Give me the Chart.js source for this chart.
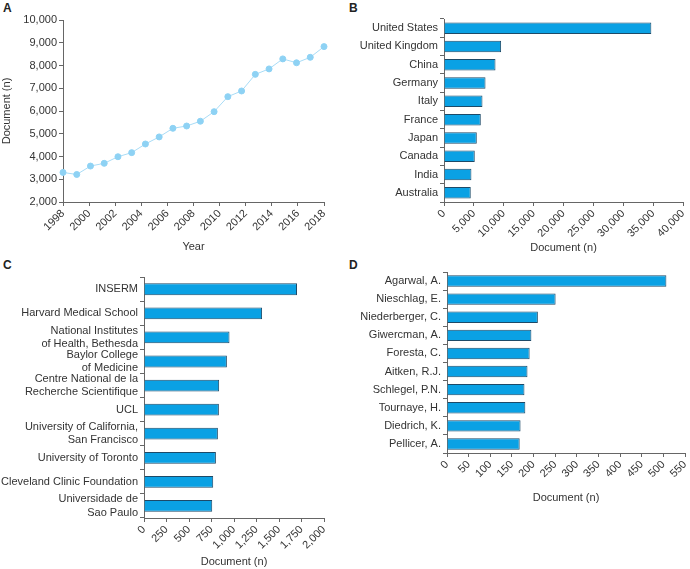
<!DOCTYPE html>
<html>
<head>
<meta charset="utf-8">
<script src="https://cdn.jsdelivr.net/npm/chart.js@4"></script>
<style>
	body { margin: 0; background: #fff; font-family: "Liberation Sans", Arial, sans-serif; }
	.wrap { position: relative; width: 690px; height: 569px; overflow: hidden; }
	.box { position: absolute; }
	.tag { position: absolute; font-weight: bold; font-size: 12px; color: #222; }
</style>
</head>
<body>
<div class="wrap">
	<div class="tag" style="left:3px;top:1px">A</div>
	<div class="tag" style="left:349px;top:1px">B</div>
	<div class="tag" style="left:3px;top:258px">C</div>
	<div class="tag" style="left:349px;top:258px">D</div>
	<div class="box" style="left:0;top:10px;width:340px;height:250px"><canvas id="chartA"></canvas></div>
	<div class="box" style="left:345px;top:10px;width:345px;height:250px"><canvas id="chartB"></canvas></div>
	<div class="box" style="left:0;top:262px;width:345px;height:307px"><canvas id="chartC"></canvas></div>
	<div class="box" style="left:345px;top:262px;width:345px;height:250px"><canvas id="chartD"></canvas></div>
</div>
<script>
// A - documents per year
const years = ["1999", "2000", "2001", "2002", "2003", "2004", "2005", "2006", "2007", "2008",
	"2009", "2010", "2011", "2012", "2013", "2014", "2015", "2016", "2017", "2018"];
const yearDocs = [3300, 3210, 3580, 3700, 3990, 4170, 4550, 4860, 5240, 5340,
	5550, 5970, 6630, 6880, 7610, 7850, 8290, 8120, 8360, 8830];

// B - countries
const countries = ["United States", "United Kingdom", "China", "Germany", "Italy",
	"France", "Japan", "Canada", "India", "Australia"];
const countryDocs = [34700, 9560, 8620, 6950, 6440, 6160, 5490, 5150, 4590, 4480];

// C - institutions
const institutions = [
	"INSERM",
	"Harvard Medical School",
	["National Institutes", "of Health, Bethesda"],
	["Baylor College", "of Medicine"],
	["Centre National de la", "Recherche Scientifique"],
	"UCL",
	["University of California,", "San Francisco"],
	"University of Toronto",
	"Cleveland Clinic Foundation",
	["Universidade de", "Sao Paulo"],
];
const institutionDocs = [1700, 1312, 950, 921, 835, 832, 821, 799, 769, 758];

// D - authors
const authors = ["Agarwal, A.", "Nieschlag, E.", "Niederberger, C.", "Giwercman, A.", "Foresta, C.",
	"Aitken, R.J.", "Schlegel, P.N.", "Tournaye, H.", "Diedrich, K.", "Pellicer, A."];
const authorDocs = [507, 251, 210, 195, 191, 186, 179, 181, 170, 168];

Chart.defaults.font.family = '"Liberation Sans", Arial, sans-serif';
Chart.defaults.font.size = 11;
Chart.defaults.color = "#333";
Chart.defaults.animation = false;
Chart.defaults.maintainAspectRatio = false;
Chart.defaults.plugins.legend.display = false;
Chart.defaults.plugins.tooltip.enabled = false;

const axisColor = "#666";
const barFill = "#0aa1e4";
const barEdge = "#1d4a68";

function gridOpts() {
	return { drawOnChartArea: false, drawTicks: true, tickLength: 4, color: axisColor };
}

// fixed axis height, and no extra side padding for the rotated labels
function fixX(h) {
	return function (s) {
		s.height = h;
		s.paddingLeft = 0;
		s.paddingRight = 0;
	};
}

function barChart(id, labels, values, max, step, yWidth, xHeight, pad, barPct) {
	return new Chart(document.getElementById(id), {
		type: "bar",
		data: {
			labels: labels,
			datasets: [{
				data: values,
				backgroundColor: barFill,
				borderColor: barEdge,
				borderWidth: 1,
				borderSkipped: "start",
				barPercentage: barPct,
				categoryPercentage: 1,
			}],
		},
		options: {
			indexAxis: "y",
			layout: { padding: pad },
			scales: {
				x: {
					min: 0,
					max: max,
					ticks: { stepSize: step, minRotation: 45, maxRotation: 45, padding: 1, autoSkip: false },
					grid: gridOpts(),
					border: { color: axisColor },
					title: { display: true, text: "Document (n)", padding: { top: 2, bottom: 0 } },
					afterFit: fixX(xHeight),
				},
				y: {
					ticks: { padding: 2, autoSkip: false },
					grid: gridOpts(),
					border: { color: axisColor },
					afterFit: function (s) { s.width = yWidth; },
				},
			},
		},
	});
}

// line chart
new Chart(document.getElementById("chartA"), {
	type: "line",
	data: {
		labels: years,
		datasets: [{
			data: yearDocs,
			borderColor: "#a9dcf6",
			borderWidth: 1,
			pointBackgroundColor: "#8ed2f4",
			pointBorderColor: "#8ed2f4",
			pointRadius: 3,
			tension: 0,
		}],
	},
	options: {
		layout: { padding: { top: 10, right: 16, left: 0, bottom: 6 } },
		scales: {
			x: { display: false, offset: false },
			x2: {
				type: "linear",
				position: "bottom",
				min: 1998,
				max: 2018,
				ticks: {
					stepSize: 2,
					minRotation: 45,
					maxRotation: 45,
					padding: 1,
					autoSkip: false,
					callback: function (v) { return String(v); },
				},
				grid: gridOpts(),
				border: { color: axisColor },
				title: { display: true, text: "Year", padding: { top: 4, bottom: 0 } },
				afterFit: fixX(52),
			},
			y: {
				min: 2000,
				max: 10000,
				ticks: { stepSize: 1000, padding: 2 },
				grid: gridOpts(),
				border: { color: axisColor },
				title: { display: true, text: "Document (n)", padding: { top: 0, bottom: 2 } },
				afterFit: function (s) { s.width = 63; },
			},
		},
	},
});

barChart("chartB", countries, countryDocs, 40000, 5000, 99,
	53, { top: 9, right: 7, left: 0, bottom: 5 }, 0.63);
barChart("chartC", institutions, institutionDocs, 2000, 250, 144,
	51, { top: 9, right: 21, left: 0, bottom: 0 }, 0.49);
barChart("chartD", authors, authorDocs, 550, 50, 102,
	52, { top: 10, right: 5, left: 0, bottom: 7 }, 0.63);
</script>
</body>
</html>
